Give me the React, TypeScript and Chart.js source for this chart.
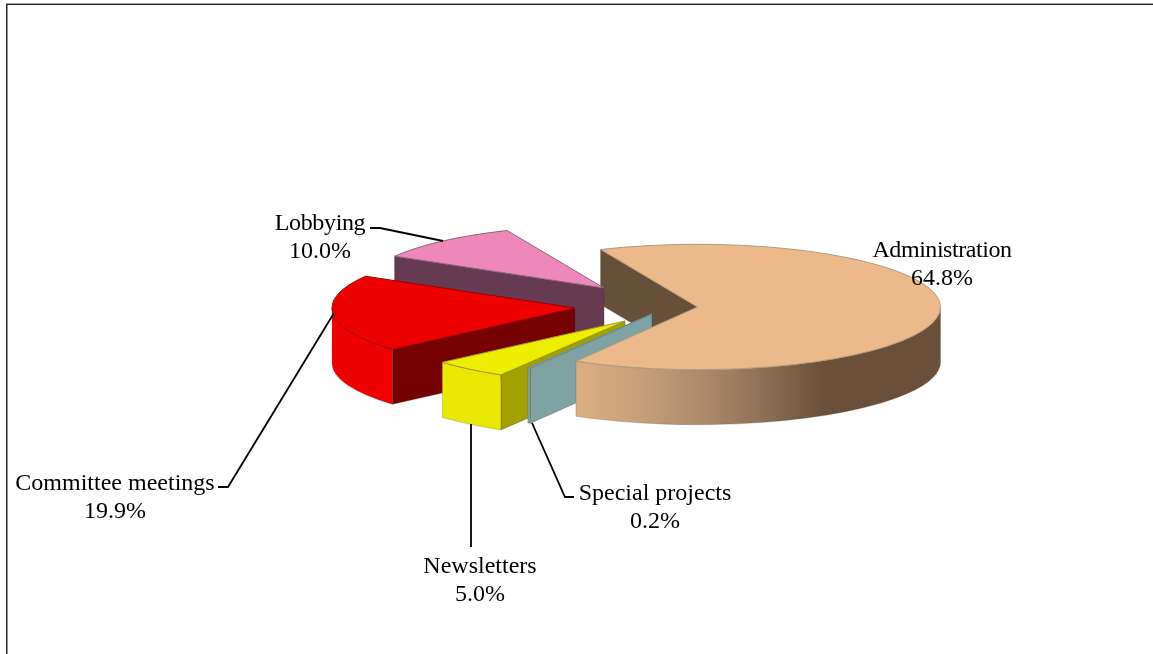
import React, { useEffect, useRef } from "react";
import { Chart, registerables } from "chart.js";

Chart.register(...registerables);

// ---- data (clockwise from the top of the Administration slice) ----
const categories = ["Administration", "Special projects", "Newsletters", "Committee meetings", "Lobbying"];
const shares = [64.8, 0.2, 5.0, 19.9, 10.0];

// ---- styles ----
const topColors = ["#ecb98a", "#8fb3b3", "#eeee00", "#ee0000", "#ee88bb"];
const faceColors = ["#66503a", "#7fa3a3", "#a3a000", "#770000", "#663a50"];
const wallColors = ["gradient", "#7fa3a3", "#e8e800", "#ee0000", "#663a50"];
const edgeColors = ["#b39a7c", "#6f8f8f", "#a0a030", "#a00000", "#8a6478"];
const explodeX = [61, 15.5, -11.5, -61.5, -32.5];
const explodeY = [0, 7, 14, 1, -19];
const SQUASH = 0.258;
const DEPTH = 55;
const FONT = '24px "Liberation Serif"';

const labelCenterX = [942, 655, 480, 115, 320];
const labelBaseY = [257, 500, 573, 490, 230];
const labelSpacing = ["-0.45px", "0px", "0px", "0px", "-0.35px"];
const leaders: number[][][] = [
  [],
  [[532, 423], [565, 497], [574, 497]],
  [[471, 424], [471, 547]],
  [[218, 487], [228, 487], [334, 313]],
  [[370, 228], [380, 228], [443, 241]],
];

const pie3d = {
  id: "pie3d",
  beforeDatasetDraw(chart: any) {
    const { ctx } = chart;
    const arcs = chart.getDatasetMeta(0).data;
    const geo = arcs.map((el: any, i: number) => {
      const p = el.getProps(["x", "y", "startAngle", "endAngle", "outerRadius"], true);
      return {
        x: p.x + explodeX[i],
        y: p.y + explodeY[i],
        a: p.startAngle,
        b: p.endAngle,
        r: p.outerRadius,
        ry: p.outerRadius * SQUASH,
        i,
        color: el.options.backgroundColor,
      };
    });

    const face = (g: any) => {
      const px = g.x + g.r * Math.cos(g.a);
      const py = g.y + g.ry * Math.sin(g.a);
      ctx.beginPath();
      ctx.moveTo(g.x, g.y);
      ctx.lineTo(px, py);
      ctx.lineTo(px, py + DEPTH);
      ctx.lineTo(g.x, g.y + DEPTH);
      ctx.closePath();
      ctx.fillStyle = faceColors[g.i];
      ctx.fill();
      ctx.strokeStyle = "rgba(60,40,40,0.3)";
      ctx.lineWidth = 1;
      ctx.stroke();
    };

    const wall = (g: any) => {
      for (let k = -1; k <= 2; k++) {
        const lo = Math.max(g.a, k * 2 * Math.PI);
        const hi = Math.min(g.b, k * 2 * Math.PI + Math.PI);
        if (hi <= lo) continue;
        ctx.beginPath();
        ctx.ellipse(g.x, g.y, g.r, g.ry, 0, lo, hi);
        ctx.ellipse(g.x, g.y + DEPTH, g.r, g.ry, 0, hi, lo, true);
        ctx.closePath();
        let fill: any = wallColors[g.i];
        if (fill === "gradient") {
          const left = g.x + g.r * Math.cos(hi);
          const right = g.x + g.r;
          const grad = ctx.createLinearGradient(left, 0, right, 0);
          grad.addColorStop(0, "#dcae82");
          grad.addColorStop(0.17, "#c9a07a");
          grad.addColorStop(0.33, "#ae8d6c");
          grad.addColorStop(0.5, "#8f7358");
          grad.addColorStop(0.68, "#6a503a");
          grad.addColorStop(1, "#6a503a");
          fill = grad;
        }
        ctx.fillStyle = fill;
        ctx.fill();
        ctx.strokeStyle = "rgba(90,70,60,0.25)";
        ctx.lineWidth = 1;
        ctx.stroke();
      }
    };

    const top = (g: any) => {
      ctx.beginPath();
      ctx.moveTo(g.x, g.y);
      ctx.ellipse(g.x, g.y, g.r, g.ry, 0, g.a, g.b);
      ctx.closePath();
      ctx.fillStyle = g.color;
      ctx.fill();
      ctx.strokeStyle = edgeColors[g.i];
      ctx.lineWidth = 1;
      ctx.stroke();
    };

    ctx.save();
    face(geo[0]);
    for (const idx of [4, 3, 2, 1]) {
      face(geo[idx]);
      wall(geo[idx]);
      top(geo[idx]);
    }
    wall(geo[0]);
    top(geo[0]);
    ctx.restore();
    return false;
  },
  afterDatasetsDraw(chart: any) {
    const { ctx } = chart;
    ctx.save();
    // frame
    ctx.fillStyle = "#a8a8a8";
    ctx.fillRect(6, 3, 1147, 1);
    ctx.fillStyle = "#222222";
    ctx.fillRect(6, 4, 1147, 1);
    ctx.fillRect(6, 4, 1.5, 650);
    // leader lines
    ctx.strokeStyle = "#000000";
    ctx.lineWidth = 1.8;
    leaders.forEach((pts) => {
      if (!pts.length) return;
      ctx.beginPath();
      pts.forEach(([x, y], j) => (j ? ctx.lineTo(x, y) : ctx.moveTo(x, y)));
      ctx.stroke();
    });
    // labels
    ctx.fillStyle = "#000000";
    ctx.font = FONT;
    ctx.textAlign = "center";
    ctx.textBaseline = "alphabetic";
    categories.forEach((name, i) => {
      ctx.letterSpacing = labelSpacing[i];
      ctx.fillText(name, labelCenterX[i], labelBaseY[i]);
      ctx.letterSpacing = "0px";
      ctx.fillText(shares[i].toFixed(1) + "%", labelCenterX[i], labelBaseY[i] + 28);
    });
    ctx.restore();
  },
};

export default function App() {
  const ref = useRef<HTMLCanvasElement>(null);
  useEffect(() => {
    const chart = new Chart(ref.current as HTMLCanvasElement, {
      type: "pie",
      data: {
        labels: categories,
        datasets: [{ data: shares, backgroundColor: topColors, borderWidth: 0 }],
      },
      options: {
        animation: false,
        responsive: false,
        radius: 243,
        rotation: -23.5,
        layout: { padding: { left: 120, bottom: 40, top: 0, right: 0 } },
        plugins: { legend: { display: false }, tooltip: { enabled: false } },
      },
      plugins: [pie3d],
    } as any);
    return () => chart.destroy();
  }, []);
  return (
    <div style={{ position: "absolute", left: 0, top: 0, width: 1153, height: 654, background: "#fff" }}>
      <canvas ref={ref} width={1153} height={654} style={{ display: "block" }} />
    </div>
  );
}
